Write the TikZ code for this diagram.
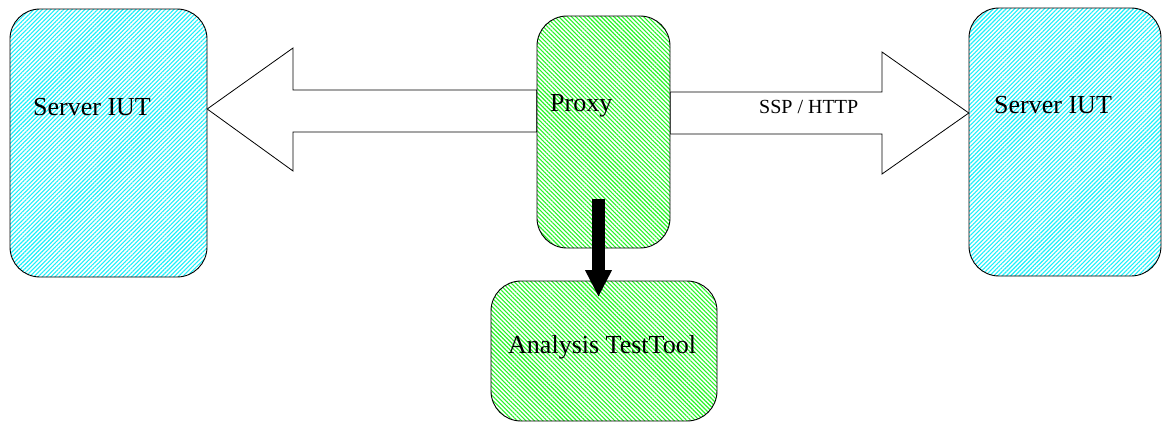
\documentclass[tikz,border=0pt]{standalone}
\usepackage{fontspec}
\setmainfont{Liberation Serif}
\usetikzlibrary{patterns.meta,arrows.meta}
\definecolor{hcyan}{RGB}{30,240,250}
\definecolor{hgreen}{RGB}{40,245,40}
\tikzset{
  box/.style={draw=black, line width=0.9pt, rectangle, rounded corners=30pt, inner sep=0pt, preaction={fill=white}},
  cyanbox/.style={box, pattern={Lines[angle=45,distance=3pt,line width=1.1pt]}, pattern color=hcyan},
  greenbox/.style={box, pattern={Lines[angle=-45,distance=3pt,line width=1.1pt]}, pattern color=hgreen},
  bigtxt/.style={font=\fontsize{26}{30}\selectfont, inner sep=0pt, anchor=base west},
  smalltxt/.style={font=\fontsize{20}{24}\selectfont, inner sep=0pt, anchor=base west},
  blockarrow/.style={draw=black, line width=0.8pt, fill=white, line join=miter}
}
\begin{document}
\begin{tikzpicture}[x=1pt,y=-1pt]
\useasboundingbox (0,0) rectangle (1162,421);
% boxes (positions only, drawn later on top of arrow ends)
\path (108.5,143) node[minimum width=197pt, minimum height=268pt] (lserver) {};
\path (603.5,132) node[minimum width=133pt, minimum height=232pt] (proxy) {};
\path (1065,142) node[minimum width=192pt, minimum height=268pt] (rserver) {};
\path (604,351) node[minimum width=226pt, minimum height=140pt] (analysis) {};
% block arrows
\draw[blockarrow] (proxy.west |- 0,90) -- (293,90) -- (293,48) -- (lserver.east |- 0,109)
  -- (293,171) -- (293,132) -- (proxy.west |- 0,132) -- cycle;
\draw[blockarrow] (proxy.east |- 0,92) -- (882,92) -- (882,52) -- (rserver.west |- 0,113)
  -- (882,174) -- (882,134) -- (proxy.east |- 0,134) -- cycle;
% box drawings
\node[cyanbox, minimum width=197pt, minimum height=268pt] at (lserver) {};
\node[greenbox, minimum width=133pt, minimum height=232pt] at (proxy) {};
\node[cyanbox, minimum width=192pt, minimum height=268pt] at (rserver) {};
\node[greenbox, minimum width=226pt, minimum height=140pt] at (analysis) {};
% texts
\node[bigtxt] (t1) at (33,115) {Server IUT};
\node[bigtxt] (t2) at (550,111) {Proxy};
\node[bigtxt] (t3) at (994,113) {Server IUT};
\node[smalltxt] (t4) at (759,113) {SSP / HTTP};
\node[bigtxt] (t5) at (508,353) {Analysis TestTool};
% black arrow
\coordinate (ks) at (598.5,199);
\coordinate (kt) at (598.5,297);
\draw[line width=13pt, -{Triangle[width=25pt,length=27pt]}] (ks) -- (kt);
\end{tikzpicture}
\end{document}
